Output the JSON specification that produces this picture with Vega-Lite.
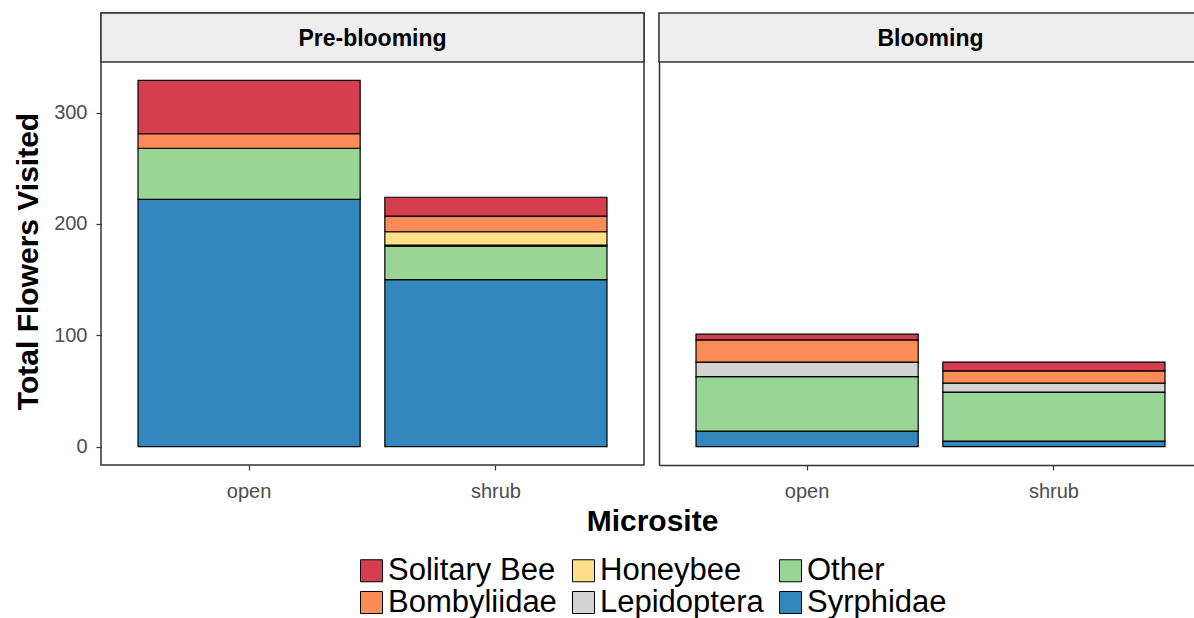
{
  "$schema": "https://vega.github.io/schema/vega-lite/v6.json",
  "padding": {"left": 12, "top": 11, "right": 0, "bottom": 0},
  "background": "white",
  "datasets": {
    "flowers": [
      {"period": "Pre-blooming", "microsite": "open", "group": "Syrphidae", "count": 222},
      {"period": "Pre-blooming", "microsite": "open", "group": "Other", "count": 46},
      {"period": "Pre-blooming", "microsite": "open", "group": "Bombyliidae", "count": 13},
      {"period": "Pre-blooming", "microsite": "open", "group": "Solitary Bee", "count": 48},
      {"period": "Pre-blooming", "microsite": "shrub", "group": "Syrphidae", "count": 150},
      {"period": "Pre-blooming", "microsite": "shrub", "group": "Other", "count": 30},
      {"period": "Pre-blooming", "microsite": "shrub", "group": "Lepidoptera", "count": 1},
      {"period": "Pre-blooming", "microsite": "shrub", "group": "Honeybee", "count": 12},
      {"period": "Pre-blooming", "microsite": "shrub", "group": "Bombyliidae", "count": 14},
      {"period": "Pre-blooming", "microsite": "shrub", "group": "Solitary Bee", "count": 17},
      {"period": "Blooming", "microsite": "open", "group": "Syrphidae", "count": 14},
      {"period": "Blooming", "microsite": "open", "group": "Other", "count": 49},
      {"period": "Blooming", "microsite": "open", "group": "Lepidoptera", "count": 13},
      {"period": "Blooming", "microsite": "open", "group": "Bombyliidae", "count": 20},
      {"period": "Blooming", "microsite": "open", "group": "Solitary Bee", "count": 5},
      {"period": "Blooming", "microsite": "shrub", "group": "Syrphidae", "count": 5},
      {"period": "Blooming", "microsite": "shrub", "group": "Other", "count": 44},
      {"period": "Blooming", "microsite": "shrub", "group": "Lepidoptera", "count": 8},
      {"period": "Blooming", "microsite": "shrub", "group": "Bombyliidae", "count": 11},
      {"period": "Blooming", "microsite": "shrub", "group": "Solitary Bee", "count": 8}
    ],
    "taxa": [
      {"group": "Syrphidae", "stackorder": 1},
      {"group": "Other", "stackorder": 2},
      {"group": "Lepidoptera", "stackorder": 3},
      {"group": "Honeybee", "stackorder": 4},
      {"group": "Bombyliidae", "stackorder": 5},
      {"group": "Solitary Bee", "stackorder": 6}
    ]
  },
  "bounds": "flush",
  "spacing": 15,
  "hconcat": [
    {
      "width": 543,
      "height": 452,
      "view": {"stroke": "#333333", "strokeWidth": 1.5},
      "layer": [
        {
          "data": {"name": "flowers"},
          "transform": [
            {"filter": "datum.period === 'Pre-blooming'"},
            {"lookup": "group", "from": {"data": {"name": "taxa"}, "key": "group", "fields": ["stackorder"]}}
          ],
          "mark": {"type": "bar", "stroke": "black", "strokeWidth": 1.2},
          "encoding": {
            "x": {
              "field": "microsite", "type": "nominal",
              "scale": {"paddingInner": 0.1, "paddingOuter": 0.15},
              "axis": {"title": "Microsite", "titleX": 551}
            },
            "y": {
              "field": "count", "type": "quantitative", "stack": "zero",
              "scale": {"domain": [-16.45, 389.45], "nice": false, "zero": false},
              "axis": {"title": "Total Flowers Visited", "values": [0, 100, 200, 300], "titleY": 248}
            },
            "order": {"field": "stackorder", "type": "quantitative"},
            "color": {
              "field": "group", "type": "nominal",
              "scale": {
                "domain": ["Solitary Bee", "Bombyliidae", "Honeybee", "Lepidoptera", "Other", "Syrphidae"],
                "range": ["#D53E4F", "#FC8D59", "#FEE08B", "#D3D3D3", "#99D594", "#3288BD"]
              },
              "legend": {
                "orient": "none", "legendX": 255, "legendY": 542, "title": null, "columns": 3,
                "values": ["Solitary Bee", "Bombyliidae", "Honeybee", "Lepidoptera", "Other", "Syrphidae"]
              }
            }
          }
        },
        {
          "data": {"values": [{"period": "Pre-blooming"}]},
          "mark": {"type": "rect", "fill": "#EEEEEE", "stroke": "#333333", "strokeWidth": 1.5},
          "encoding": {
            "x": {"datum": 0, "type": "quantitative", "scale": {"domain": [0, 1], "nice": false, "zero": false}, "axis": null},
            "x2": {"datum": 1},
            "y": {"datum": 345.45, "type": "quantitative", "scale": {"domain": [-16.45, 389.45], "nice": false, "zero": false}},
            "y2": {"datum": 389.45}
          }
        },
        {
          "data": {"values": [{"period": "Pre-blooming"}]},
          "mark": {"type": "text", "font": "Liberation Sans", "fontSize": 23, "fontWeight": "bold", "color": "#000000", "dy": 2},
          "encoding": {
            "x": {"datum": 0.5, "type": "quantitative", "scale": {"domain": [0, 1], "nice": false, "zero": false}, "axis": null},
            "y": {"datum": 367.45, "type": "quantitative", "scale": {"domain": [-16.45, 389.45], "nice": false, "zero": false}},
            "text": {"field": "period", "type": "nominal"}
          }
        }
      ],
      "resolve": {"scale": {"x": "independent"}, "axis": {"x": "independent"}}
    },
    {
      "width": 535,
      "height": 452,
      "view": {"stroke": null},
      "layer": [
        {
          "data": {"name": "flowers"},
          "transform": [
            {"filter": "datum.period === 'Blooming'"},
            {"lookup": "group", "from": {"data": {"name": "taxa"}, "key": "group", "fields": ["stackorder"]}}
          ],
          "mark": {"type": "bar", "stroke": "black", "strokeWidth": 1.2},
          "encoding": {
            "x": {
              "field": "microsite", "type": "nominal",
              "scale": {"paddingInner": 0.1, "paddingOuter": 0.15, "range": [0, 543]},
              "axis": {"title": null, "domain": true, "domainColor": "#333333", "domainWidth": 1.5}
            },
            "y": {
              "field": "count", "type": "quantitative", "stack": "zero",
              "scale": {"domain": [-16.45, 389.45], "nice": false, "zero": false},
              "axis": {"title": null, "labels": false, "ticks": false, "domain": true, "domainColor": "#333333", "domainWidth": 1.5}
            },
            "order": {"field": "stackorder", "type": "quantitative"},
            "color": {
              "field": "group", "type": "nominal",
              "scale": {
                "domain": ["Solitary Bee", "Bombyliidae", "Honeybee", "Lepidoptera", "Other", "Syrphidae"],
                "range": ["#D53E4F", "#FC8D59", "#FEE08B", "#D3D3D3", "#99D594", "#3288BD"]
              },
              "legend": {
                "orient": "none", "legendX": 255, "legendY": 542, "title": null, "columns": 3,
                "values": ["Solitary Bee", "Bombyliidae", "Honeybee", "Lepidoptera", "Other", "Syrphidae"]
              }
            }
          }
        },
        {
          "data": {"values": [{"period": "Blooming"}]},
          "mark": {"type": "rect", "fill": "#EEEEEE", "stroke": "#333333", "strokeWidth": 1.5},
          "encoding": {
            "x": {"datum": 0, "type": "quantitative", "scale": {"domain": [0, 0.9853], "nice": false, "zero": false}, "axis": null},
            "x2": {"datum": 1},
            "y": {"datum": 345.45, "type": "quantitative", "scale": {"domain": [-16.45, 389.45], "nice": false, "zero": false}},
            "y2": {"datum": 389.45}
          }
        },
        {
          "data": {"values": [{"period": "Blooming"}]},
          "mark": {"type": "text", "font": "Liberation Sans", "fontSize": 23, "fontWeight": "bold", "color": "#000000", "dy": 2},
          "encoding": {
            "x": {"datum": 0.5, "type": "quantitative", "scale": {"domain": [0, 0.9853], "nice": false, "zero": false}, "axis": null},
            "y": {"datum": 367.45, "type": "quantitative", "scale": {"domain": [-16.45, 389.45], "nice": false, "zero": false}},
            "text": {"field": "period", "type": "nominal"}
          }
        }
      ],
      "resolve": {"scale": {"x": "independent"}, "axis": {"x": "independent"}}
    }
  ],
  "config": {
    "font": "Liberation Sans",
    "axis": {
      "grid": false, "domain": false,
      "tickColor": "#333333", "tickSize": 5, "tickWidth": 1.2,
      "labelColor": "#4D4D4D", "labelFontSize": 20, "labelFont": "Liberation Sans",
      "titleFont": "Liberation Sans", "titleFontSize": 30, "titleFontWeight": "bold", "titleColor": "#000000"
    },
    "axisX": {"labelAngle": 0, "labelPadding": 11, "titlePadding": 5},
    "axisY": {"labelPadding": 9, "titlePadding": 10},
    "legend": {
      "symbolType": "square", "symbolSize": 484, "symbolStrokeColor": "black", "symbolStrokeWidth": 1,
      "symbolOpacity": 1,
      "labelFontSize": 31, "labelColor": "black", "labelFont": "Liberation Sans", "labelLimit": 0,
      "columnPadding": 11, "rowPadding": 0, "labelOffset": 1, "padding": 0
    }
  }
}
